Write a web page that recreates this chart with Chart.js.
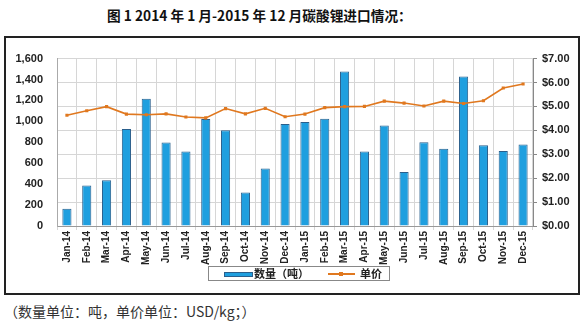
<!DOCTYPE html>
<html lang="zh">
<head>
  <meta charset="UTF-8" />
  <title>碳酸锂进口情况</title>
  <script src="https://cdn.jsdelivr.net/npm/chart.js"></script>
  <style>
    body { margin: 0; background: #fff; width: 587px; height: 326px; position: relative; overflow: hidden; }
    #title {
      position: absolute; left: 107px; top: 5px; white-space: nowrap;
      font: bold 13.7px "Noto Sans CJK SC", sans-serif; color: #111;
    }
    #box {
      position: absolute; left: 4px; top: 36px; width: 576px; height: 259px;
      border: 2px solid #222; box-sizing: border-box;
    }
    #box canvas { display: block; }
    #legend {
      position: absolute; left: 208px; top: 266px; width: 182px; height: 15px;
      border: 1px solid #888; box-sizing: border-box; background: #fff;
      font: bold 11px "Noto Sans CJK SC", sans-serif; color: #222;
    }
    #legend span { position: absolute; top: 0; line-height: 13px; white-space: nowrap; }
    .sw-bar { position: absolute; left: 15px; top: 5px; width: 27px; height: 3px; background: #1f9fdf; border: 1px solid #2a5f8c; }
    .sw-line { position: absolute; left: 119px; top: 6px; width: 27px; height: 1.5px; background: #e0781f; }
    .sw-dot { position: absolute; left: 130px; top: 4.5px; width: 4px; height: 4px; background: #e0781f; }
    #note {
      position: absolute; left: 4px; top: 301px; white-space: nowrap;
      font: 14px "Noto Sans CJK SC", sans-serif; color: #333;
    }
  </style>
</head>
<body>
<div id="title">图 1 2014 年 1 月-2015 年 12 月碳酸锂进口情况：</div>
<div id="box"><canvas id="chart" width="572" height="255"></canvas></div>
<div id="legend">
  <div class="sw-bar"></div><span style="left:45px">数量（吨）</span>
  <div class="sw-line"></div><div class="sw-dot"></div><span style="left:151px">单价</span>
</div>
<div id="note">（数量单位：吨，单价单位：USD/kg；）</div>

<script>
  const months = ['Jan-14','Feb-14','Mar-14','Apr-14','May-14','Jun-14','Jul-14','Aug-14','Sep-14','Oct-14','Nov-14','Dec-14',
                  'Jan-15','Feb-15','Mar-15','Apr-15','May-15','Jun-15','Jul-15','Aug-15','Sep-15','Oct-15','Nov-15','Dec-15'];

  // 进口数量（吨）
  const qty = [165, 388, 437, 927, 1216, 797, 713, 1023, 915, 319, 549, 974,
               993, 1026, 1476, 713, 961, 515, 800, 738, 1430, 772, 716, 778];

  // 单价（USD/kg）
  const price = [4.63, 4.82, 4.99, 4.68, 4.65, 4.69, 4.56, 4.52, 4.91, 4.69, 4.92, 4.57,
                 4.68, 4.95, 4.99, 5.00, 5.22, 5.14, 5.02, 5.22, 5.12, 5.24, 5.77, 5.94];

  const qtyTicks = { min: 0, max: 1600, step: 200 };
  const priceTicks = { min: 0, max: 7, step: 1 };

  const tickFont = { family: 'Liberation Sans, Arial, sans-serif', size: 11, weight: 'bold' };

  new Chart(document.getElementById('chart'), {
    data: {
      labels: months,
      datasets: [
        {
          type: 'line',
          label: '单价',
          data: price,
          yAxisID: 'yPrice',
          borderColor: '#e0781f',
          backgroundColor: '#e0781f',
          borderWidth: 1.6,
          pointStyle: 'rect',
          pointRadius: 2.2,
          pointBorderWidth: 0,
          tension: 0,
          order: 0
        },
        {
          type: 'bar',
          label: '数量（吨）',
          data: qty,
          yAxisID: 'yQty',
          backgroundColor: '#1f9fdf',
          borderColor: '#2a5f8c',
          borderWidth: 1,
          categoryPercentage: 1,
          barPercentage: 0.46,
          order: 1
        }
      ]
    },
    options: {
      responsive: false,
      animation: false,
      events: [],
      layout: { padding: { top: 16, left: 0, right: 0, bottom: 0 } },
      plugins: { legend: { display: false }, tooltip: { enabled: false } },
      scales: {
        x: {
          offset: true,
          grid: { color: '#d6d6d6', tickLength: 4, offset: true },
          border: { color: '#999' },
          ticks: {
            minRotation: 90, maxRotation: 90, autoSkip: false, padding: 1,
            color: '#222',
            font: { family: 'Liberation Sans, Arial, sans-serif', size: 10, weight: 'bold' }
          },
          afterFit: s => { s.height = 67; }
        },
        yQty: {
          position: 'left',
          min: qtyTicks.min, max: qtyTicks.max,
          grid: { drawOnChartArea: false, drawTicks: false },
          border: { color: '#aaa' },
          ticks: { stepSize: qtyTicks.step, padding: 14, color: '#222', font: tickFont,
                   callback: v => v.toLocaleString('en-US') },
          afterFit: s => { s.width = 51; }
        },
        yPrice: {
          position: 'right',
          min: priceTicks.min, max: priceTicks.max,
          grid: { color: '#d6d6d6', tickLength: 4, tickColor: '#888' },
          border: { color: '#888' },
          ticks: { stepSize: priceTicks.step, padding: 5, color: '#222', font: tickFont,
                   callback: v => '$' + v.toFixed(2) },
          afterFit: s => { s.width = 45; }
        }
      }
    }
  });
</script>
</body>
</html>
